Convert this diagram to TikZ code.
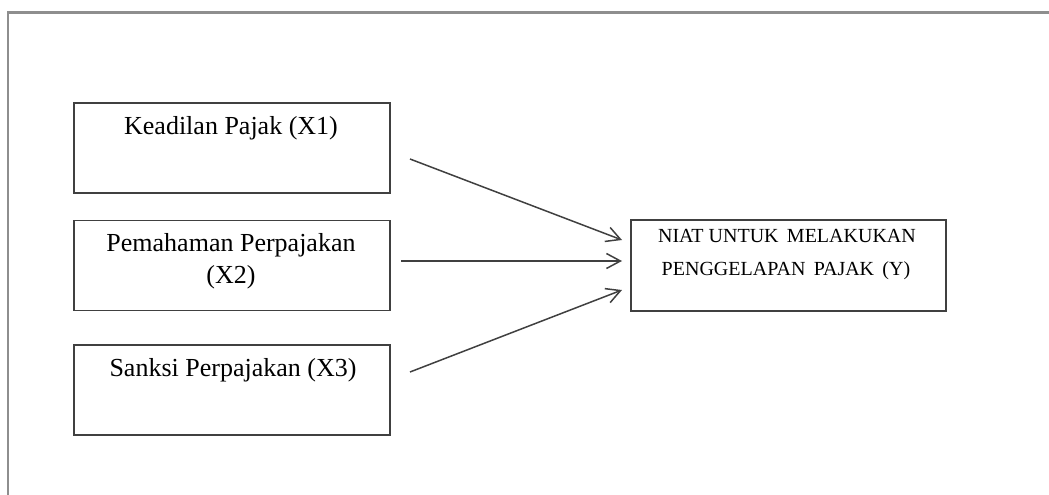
\documentclass[tikz,border=0pt]{standalone}
\usepackage{fontspec}
\setmainfont{Liberation Serif}
\usetikzlibrary{arrows.meta}
\definecolor{boxline}{HTML}{404040}
\definecolor{frameline}{HTML}{8E8E8E}
\begin{document}
\begin{tikzpicture}[x=1pt,y=-1pt,
  box/.style={draw=boxline,line width=1.6pt,minimum width=316pt,minimum height=90pt,inner sep=0pt},
  lbl/.style={anchor=base,inner sep=0pt,font=\fontsize{26}{32}\selectfont,align=center},
  ylbl/.style={anchor=base,inner sep=0pt,font=\fontsize{20}{33}\selectfont,align=center},
  arr/.style={draw=boxline,line width=1.5pt,-{Straight Barb[length=14pt,width=15pt,line width=1.5pt]}}]
\useasboundingbox (0,0) rectangle (1049,495);
% outer frame
\draw[frameline,line width=2.2pt] (8,495) -- (8,12.5) -- (1049,12.5);
% boxes
\node[box] (x1) at (232,148) {};
\node[box] (x2) at (232,265.5) {};
\node[box] (x3) at (232,390) {};
\node[box,minimum width=315pt,minimum height=91pt] (y) at (788.5,265.5) {};
% labels
\node[lbl] (t1) at (231,134) {Keadilan Pajak (X1)};
\node[lbl] (t2a) at (231,251) {Pemahaman Perpajakan};
\node[lbl] (t2b) at (231,283) {(X2)};
\node[lbl] (t3) at (233,376) {Sanksi Perpajakan (X3)};
\node[ylbl] (ta) at (787,242) {NIAT UNTUK\, MELAKUKAN};
\node[ylbl] (tb) at (786,275) {PENGGELAPAN\, PAJAK\, (Y)};
% connector ends
\coordinate (s1) at (410,159);
\coordinate (s2) at (401,261);
\coordinate (s3) at (410,372);
\coordinate (e1) at (622,240);
\coordinate (e2) at (622,261);
\coordinate (e3) at (622,290);
\draw[arr] (s1) -- (e1);
\draw[arr] (s2) -- (e2);
\draw[arr] (s3) -- (e3);
\end{tikzpicture}
\end{document}
